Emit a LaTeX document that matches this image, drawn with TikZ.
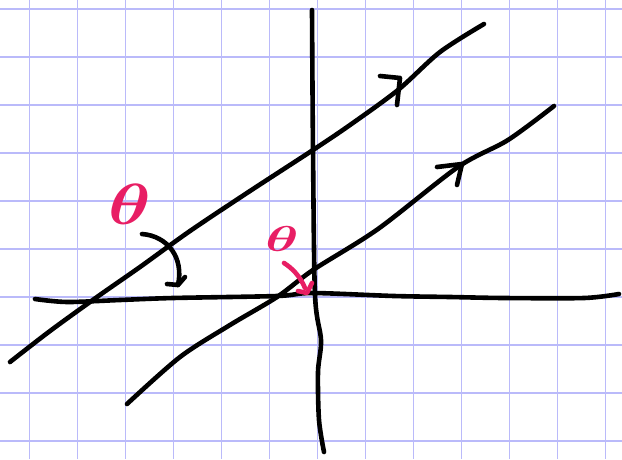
\documentclass[tikz,border=0pt]{standalone}
\usepackage{bm}
\definecolor{gridblue}{RGB}{186,186,250}
\definecolor{inkpink}{RGB}{232,30,100}

\begin{document}
\begin{tikzpicture}[x=1pt, y=-1pt,
        ink/.style={black, line width=4.6pt, line cap=round, line join=round},
        % pink pen for the angle marks
        pinkink/.style={inkpink, line width=4.6pt, line cap=round, line join=round},
        gridline/.style={gridblue, line width=1.5pt},
        thetalabel/.style={inkpink, inner sep=0pt}
    ]
    \useasboundingbox (0,0) rectangle (622,459);
    \fill[white] (0,0) rectangle (622,459);

    % --- grid paper ---
    \foreach \gx in {29.3,77.3,...,610} \draw[gridline] (\gx,0) -- (\gx,459);
    \foreach \gy in {9,57,...,459} \draw[gridline] (0,\gy) -- (622,\gy);

    % --- axes ---
    \draw[ink] plot[smooth] coordinates {(312,10) (313,150) (315,295) (321,340) (318,372) (319,420) (324,452)};
    \draw[ink] plot[smooth] coordinates {(35,299) (67,302) (120,300) (173,298) (277,296) (312,293) (394,296) (450,297) (504,298) (584,298) (619,294)};

    % --- parallel lines ---
    \draw[ink] plot[smooth] coordinates {(10,362) (50,331) (97,297) (140,267) (190,231) (250,191) (313,150) (350,125) (398,90) (440,52) (484,24)};
    \draw[ink] plot[smooth] coordinates {(127,404) (180,357) (230,325) (277,297) (313,270) (378,229) (458,167) (508,140) (554,106)};

    % arrow marks on the lines
    \draw[ink] (380,76) -- (400,78) -- (397,105);
    \draw[ink] (437,167) -- (462,164) -- (457,185);

    % --- angle labels ---
    \node[thetalabel] (thetaLeft) at (130,204) {\scalebox{7.2}[5.8]{$\bm{\theta}$}};
    \node[thetalabel] (thetaRight) at (282,239) {\scalebox{5.6}[3.6]{$\bm{\theta}$}};

    \coordinate (fromLeft) at (142,234);
    \coordinate (angleLeft) at (178,285);
    \coordinate (fromRight) at (284,263);
    \coordinate (angleRight) at (305,288);

    \draw[ink] (fromLeft) .. controls (168,236) and (184,258) .. (angleLeft);
    \draw[ink] (185,277) -- (angleLeft) -- (167,284);
    \draw[pinkink] (fromRight) .. controls (292,268) and (300,276) .. (angleRight);
    \draw[pinkink] (312,283) -- (307,293) -- (298,291);
\end{tikzpicture}
\end{document}
